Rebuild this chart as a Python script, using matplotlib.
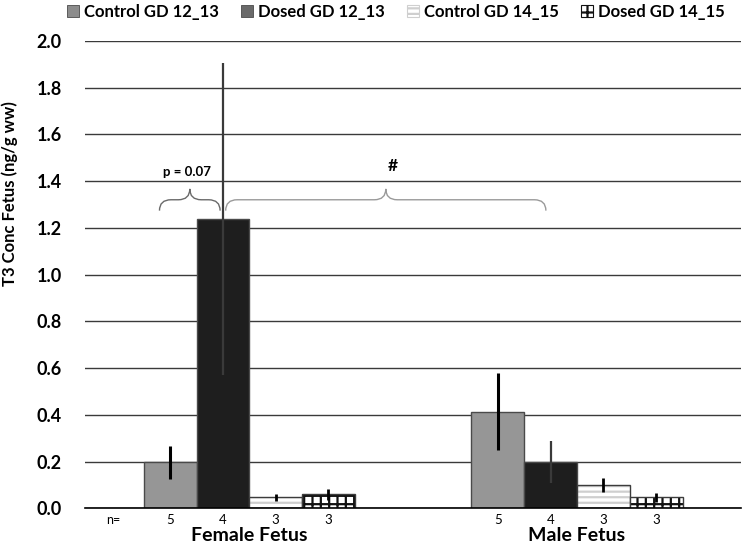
import numpy as np
import matplotlib
matplotlib.use('Agg')
import matplotlib.pyplot as plt
from matplotlib.path import Path
from matplotlib.patches import PathPatch
import matplotlib.transforms as mtransforms

plt.rcParams['font.family'] = ['Lato', 'DejaVu Sans']
plt.rcParams['hatch.linewidth'] = 1.6

# Data
groups = ['Female Fetus', 'Male Fetus']
series = ['Control GD 12_13', 'Dosed GD 12_13', 'Control GD 14_15', 'Dosed GD 14_15']
means = {
    'Control GD 12_13': [0.198, 0.413],
    'Dosed GD 12_13': [1.237, 0.200],
    'Control GD 14_15': [0.048, 0.098],
    'Dosed GD 14_15': [0.063, 0.049],
}
err_lo = {
    'Control GD 12_13': [0.125, 0.250],
    'Dosed GD 12_13': [0.571, 0.107],
    'Control GD 14_15': [0.030, 0.071],
    'Dosed GD 14_15': [0.037, 0.028],
}
err_hi = {
    'Control GD 12_13': [0.268, 0.578],
    'Dosed GD 12_13': [1.906, 0.290],
    'Control GD 14_15': [0.063, 0.128],
    'Dosed GD 14_15': [0.084, 0.067],
}
n_counts = {
    'Control GD 12_13': [5, 5],
    'Dosed GD 12_13': [4, 4],
    'Control GD 14_15': [3, 3],
    'Dosed GD 14_15': [3, 3],
}

# styles
face = {'Control GD 12_13': '#969696', 'Dosed GD 12_13': '#1e1e1e',
        'Control GD 14_15': 'white', 'Dosed GD 14_15': 'white'}
hatch = {'Control GD 12_13': None, 'Dosed GD 12_13': None,
         'Control GD 14_15': '---', 'Dosed GD 14_15': '++'}
hatch_col = {'Control GD 14_15': '#cfcfcf', 'Dosed GD 14_15': '#111111'}
legend_face = {'Control GD 12_13': '#8c8c8c', 'Dosed GD 12_13': '#6a6a6a'}
err_col = {'Control GD 12_13': 'black', 'Dosed GD 12_13': '#3a3a3a',
           'Control GD 14_15': 'black', 'Dosed GD 14_15': 'black'}
err_lw = {'Control GD 12_13': 2.2, 'Dosed GD 12_13': 1.6,
          'Control GD 14_15': 2.0, 'Dosed GD 14_15': 2.0}

fig = plt.figure(figsize=(7.42, 5.44), dpi=100)
ax = fig.add_axes([85.4 / 742, 1 - 508.3 / 544, 655.5 / 742, 467.3 / 544])

x = np.arange(len(groups))
w = 0.161
offsets = (np.arange(len(series)) - 1.5) * w

handles = []
for s, off in zip(series, offsets):
    xs = x + off
    if hatch[s]:
        ax.bar(xs, means[s], w, color='white', edgecolor=hatch_col[s],
               hatch=hatch[s], linewidth=0, zorder=3)
        ax.bar(xs, means[s], w, fill=False, edgecolor='#3c3c3c', linewidth=1.0, zorder=3)
        h = plt.Rectangle((0, 0), 1, 1, facecolor='white', edgecolor=hatch_col[s],
                          hatch=hatch[s], linewidth=0.8)
    else:
        ax.bar(xs, means[s], w, color=face[s], edgecolor='#4a4a4a', linewidth=1.0, zorder=3)
        h = plt.Rectangle((0, 0), 1, 1, facecolor=legend_face[s], edgecolor='#4a4a4a',
                          linewidth=0.6)
    handles.append(h)
    ax.vlines(xs, err_lo[s], err_hi[s], color=err_col[s], lw=err_lw[s], zorder=4)

ax.set_xlim(-0.5, 1.5)
ax.set_ylim(0, 2.0)
ax.set_yticks(np.arange(0, 2.01, 0.2))
ax.set_yticklabels([f'{v:.1f}' for v in np.arange(0, 2.01, 0.2)],
                   fontsize=13, fontweight='bold')
ax.set_xticks([])
ax.tick_params(axis='y', length=0, pad=17)
ax.yaxis.grid(True, color='#3a3a3a', lw=1.0)
ax.set_axisbelow(True)
for sp in ['top', 'right', 'left']:
    ax.spines[sp].set_visible(False)
ax.spines['bottom'].set_color('black')
ax.spines['bottom'].set_linewidth(1.2)
ax.spines['bottom'].set_zorder(5)
ax.set_ylabel('T3 Conc Fetus (ng/g ww)', fontsize=12, fontweight='bold')
ax.yaxis.set_label_coords(-0.103, 0.673)

# n labels and category labels
trans = mtransforms.blended_transform_factory(ax.transData, ax.transAxes)
ax.text(-0.416, -0.024, 'n=', transform=trans, ha='center', va='center', fontsize=9)
for s, off in zip(series, offsets):
    for i in range(len(groups)):
        ax.text(x[i] + off, -0.024, str(n_counts[s][i]), transform=trans,
                ha='center', va='center', fontsize=9.5)
for i, g in enumerate(groups):
    ax.text(x[i], -0.058, g, transform=trans, ha='center', va='center',
            fontsize=14, fontweight='bold')


def brace(x0, x1, ytop, ybot, color='#9a9a9a'):
    xm = (x0 + x1) / 2
    ymid = (ytop + ybot) / 2
    r = min(0.035, (x1 - x0) / 5)
    verts = [(x0, ybot), (x0, ymid), (x0 + r, ymid),
             (xm - r, ymid), (xm, ymid), (xm, ytop),
             (xm, ymid), (xm + r, ymid),
             (x1 - r, ymid), (x1, ymid), (x1, ybot)]
    codes = [Path.MOVETO, Path.CURVE3, Path.CURVE3,
             Path.LINETO, Path.CURVE3, Path.CURVE3,
             Path.CURVE3, Path.CURVE3,
             Path.LINETO, Path.CURVE3, Path.CURVE3]
    ax.add_patch(PathPatch(Path(verts, codes), fill=False, edgecolor=color,
                           lw=1.0, zorder=6))


brace(-0.274, -0.089, 1.367, 1.274, color='#6a6a6a')
brace(-0.072, 0.905, 1.367, 1.274)
ax.text(-0.19, 1.44, 'p = 0.07', ha='center', va='center', fontsize=9.5,
        fontweight='bold', zorder=6)
ax.text(0.437, 1.465, '#', ha='center', va='center', fontsize=12.5,
        fontweight='bold', zorder=6)

fig.legend(handles, series, loc='center', bbox_to_anchor=(396 / 742, 1 - 12 / 544),
           ncol=4, frameon=False, prop={'weight': 'bold', 'size': 12},
           handlelength=0.75, handleheight=0.75, handletextpad=0.3,
           columnspacing=1.3, borderpad=0)

fig.savefig('out.png', dpi=100)
